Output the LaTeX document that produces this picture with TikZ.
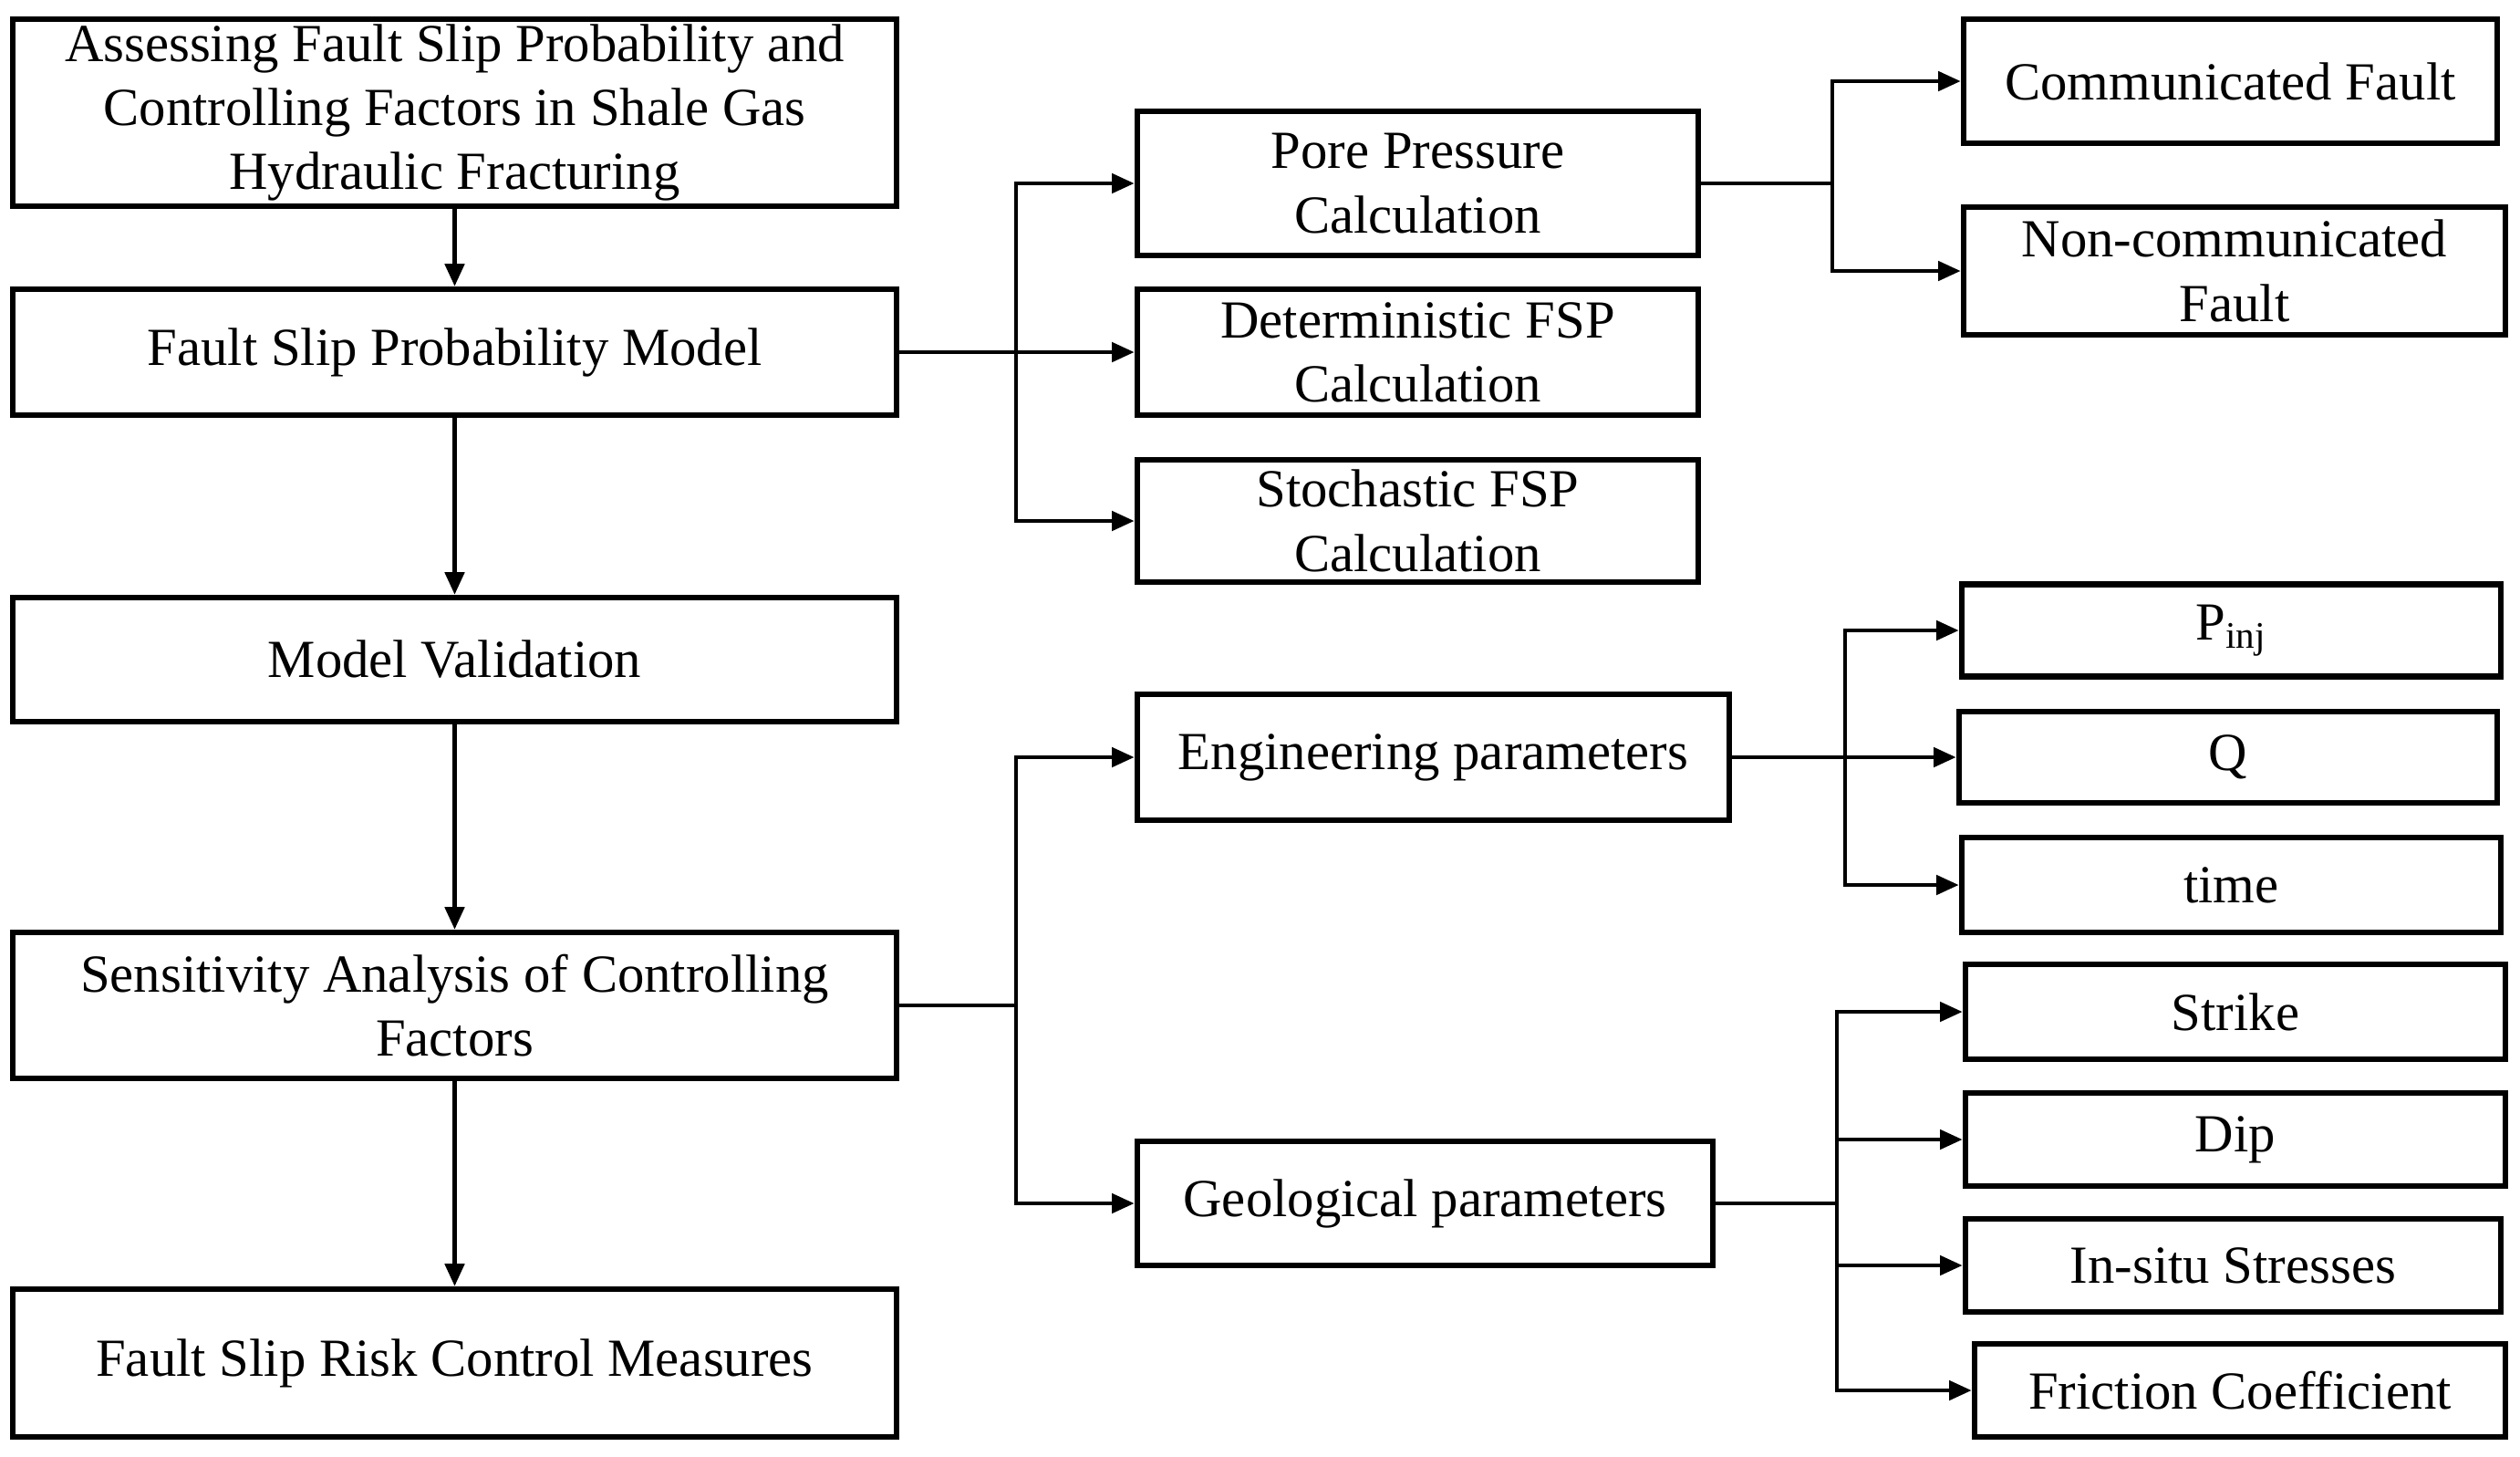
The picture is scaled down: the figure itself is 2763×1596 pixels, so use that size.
\documentclass[tikz,border=0pt]{standalone}
\usepackage{fontspec}
\setmainfont{Liberation Serif}
\usetikzlibrary{arrows.meta}
\begin{document}
\begin{tikzpicture}[x=0.01cm,y=-0.01cm,
  box/.style={draw,line width=1.8pt,inner sep=0pt,align=center,
    font=\fontsize{16.7}{20}\selectfont},
  conn/.style={line width=1.3pt},
  arr/.style={line width=1.3pt,-{Triangle[length=7pt,width=6pt]}}]
\useasboundingbox (0,0) rectangle (2763,1596);
% left column
\node[box,minimum width=9.69cm,minimum height=2.05cm] (title) at (498.5,123.5)
  {Assessing Fault Slip Probability and\\Controlling Factors in Shale Gas\\Hydraulic Fracturing};
\node[box,minimum width=9.69cm,minimum height=1.38cm] (fsp) at (498.5,386) {Fault Slip Probability Model};
\node[box,minimum width=9.69cm,minimum height=1.36cm] (val) at (498.5,723) {Model Validation};
\node[box,minimum width=9.69cm,minimum height=1.60cm] (sens) at (498.5,1102)
  {Sensitivity Analysis of Controlling\\Factors};
\node[box,minimum width=9.69cm,minimum height=1.62cm] (risk) at (498.5,1494) {Fault Slip Risk Control Measures};
% middle column
\node[box,minimum width=6.15cm,minimum height=1.58cm] (pore) at (1554.5,201) {Pore Pressure\\Calculation};
\node[box,minimum width=6.15cm,minimum height=1.38cm] (det) at (1554.5,386) {Deterministic FSP\\Calculation};
\node[box,minimum width=6.15cm,minimum height=1.34cm] (sto) at (1554.5,571) {Stochastic FSP\\Calculation};
\node[box,minimum width=6.49cm,minimum height=1.38cm] (eng) at (1571.5,830) {Engineering parameters};
\node[box,minimum width=6.31cm,minimum height=1.36cm] (geo) at (1562.5,1319) {Geological parameters};
% right column
\node[box,minimum width=5.85cm,minimum height=1.36cm] (comm) at (2445.5,89) {Communicated Fault};
\node[box,minimum width=5.94cm,minimum height=1.40cm] (non) at (2450,297) {Non-communicated\\Fault};
\node[box,minimum width=5.91cm,minimum height=1.01cm] (pinj) at (2446.5,691) {P\textsubscript{inj}};
\node[box,minimum width=5.90cm,minimum height=1.00cm] (q) at (2443,830) {Q};
\node[box,minimum width=5.91cm,minimum height=1.04cm] (time) at (2446.5,970) {time};
\node[box,minimum width=5.92cm,minimum height=1.04cm] (strike) at (2451,1109) {Strike};
\node[box,minimum width=5.92cm,minimum height=1.02cm] (dip) at (2451,1249) {Dip};
\node[box,minimum width=5.87cm,minimum height=1.02cm] (insitu) at (2448.5,1387) {In-situ Stresses};
\node[box,minimum width=5.82cm,minimum height=1.02cm] (fric) at (2456,1524) {Friction Coefficient};
% vertical flow
\draw[arr] (title.south) -- (fsp.north);
\draw[arr] (fsp.south) -- (val.north);
\draw[arr] (val.south) -- (sens.north);
\draw[arr] (sens.south) -- (risk.north);
% branch points
\coordinate (b1) at (1114,386);
\coordinate (b2) at (2009,201);
\coordinate (b3) at (1114,1102);
\coordinate (b4) at (2023,830);
\coordinate (b5) at (2014,1319);
% FSP model branches
\draw[conn] (fsp.east) -- (b1);
\draw[arr] (b1) |- (pore.west);
\draw[arr] (b1) -- (det.west);
\draw[arr] (b1) |- (sto.west);
% pore pressure branches
\draw[conn] (pore.east) -- (b2);
\draw[arr] (b2) |- (comm.west);
\draw[arr] (b2) |- (non.west);
% sensitivity branches
\draw[conn] (sens.east) -- (b3);
\draw[arr] (b3) |- (eng.west);
\draw[arr] (b3) |- (geo.west);
% engineering branches
\draw[conn] (eng.east) -- (b4);
\draw[arr] (b4) |- (pinj.west);
\draw[arr] (b4) -- (q.west);
\draw[arr] (b4) |- (time.west);
% geological branches
\draw[conn] (geo.east) -- (b5);
\draw[arr] (b5) |- (strike.west);
\draw[arr] (b5) |- (dip.west);
\draw[arr] (b5) |- (insitu.west);
\draw[arr] (b5) |- (fric.west);
\end{tikzpicture}
\end{document}
